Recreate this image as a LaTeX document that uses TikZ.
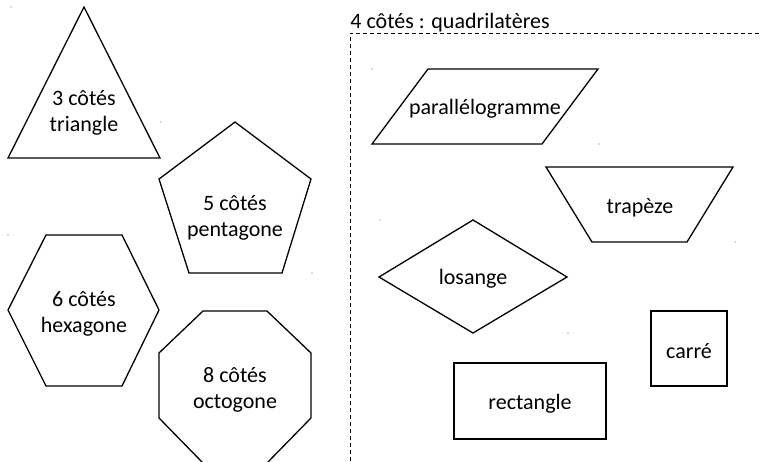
\documentclass[tikz,border=0pt]{standalone}
\usepackage{fontspec}
\setmainfont{Carlito}
\begin{document}
\begin{tikzpicture}[x=0.5pt,y=-0.5pt,
  shapeline/.style={draw=black,line width=0.65pt,line join=miter},
  lbl/.style={align=center,font=\fontsize{11}{13}\selectfont,inner sep=0pt},
  frameline/.style={draw=black,line width=0.45pt,dash pattern=on 2pt off 1.5pt},
  speck/.style={fill=black!60,draw=none}]
\useasboundingbox (0,0) rectangle (760,461);
% triangle
\draw[shapeline] (84,7) -- (160,158) -- (8,158) -- cycle;
\node[lbl] (tri) at (84,113) {3 côtés\\triangle};
% pentagon
\draw[shapeline] (235,122) -- (311,179) -- (282,273) -- (189,273) -- (159,179) -- cycle;
\node[lbl] (pent) at (235,218) {5 côtés\\pentagone};
% hexagon
\draw[shapeline] (46,235) -- (122,235) -- (159,310) -- (122,386) -- (46,386) -- (8,310) -- cycle;
\node[lbl] (hex) at (84,314) {6 côtés\\hexagone};
% octagon
\draw[shapeline] (203,311) -- (267,311) -- (311,353) -- (311,418) -- (267,463) -- (203,463) -- (159,418) -- (159,353) -- cycle;
\node[lbl] (oct) at (235,390) {8 côtés\\octogone};
% quadrilaterals frame
\coordinate (fa) at (350,461);
\coordinate (fb) at (350,33);
\coordinate (fc) at (760,33);
\draw[frameline] (fa) -- (fb) -- (fc);
\node[lbl,anchor=base west] (quad) at (350,28) {4 côtés : quadrilatères};
% parallelogram
\draw[shapeline] (428,69) -- (598,69) -- (542,144) -- (372,144) -- cycle;
\node[lbl] (para) at (485,109) {parallélogramme};
% trapeze
\draw[shapeline] (546,167) -- (733,167) -- (687,242) -- (592,242) -- cycle;
\node[lbl] (trap) at (640,208) {trapèze};
% losange
\draw[shapeline] (379,277) -- (473,220) -- (567,277) -- (473,333) -- cycle;
\node[lbl] (los) at (473,279) {losange};
% rectangle
\draw[shapeline] (454,363) rectangle (606,439);
\node[lbl] (rect) at (530,404) {rectangle};
% carre
\draw[shapeline] (651,311) rectangle (727,386);
\node[lbl] (carre) at (689,351) {carré};
% specks
\foreach \p in {(11,7),(161,122),(312,273),(8,235),(372,69),(599,144),(380,220),(735,242),(568,333)}
  \fill[speck] \p circle (0.7);
\end{tikzpicture}
\end{document}
